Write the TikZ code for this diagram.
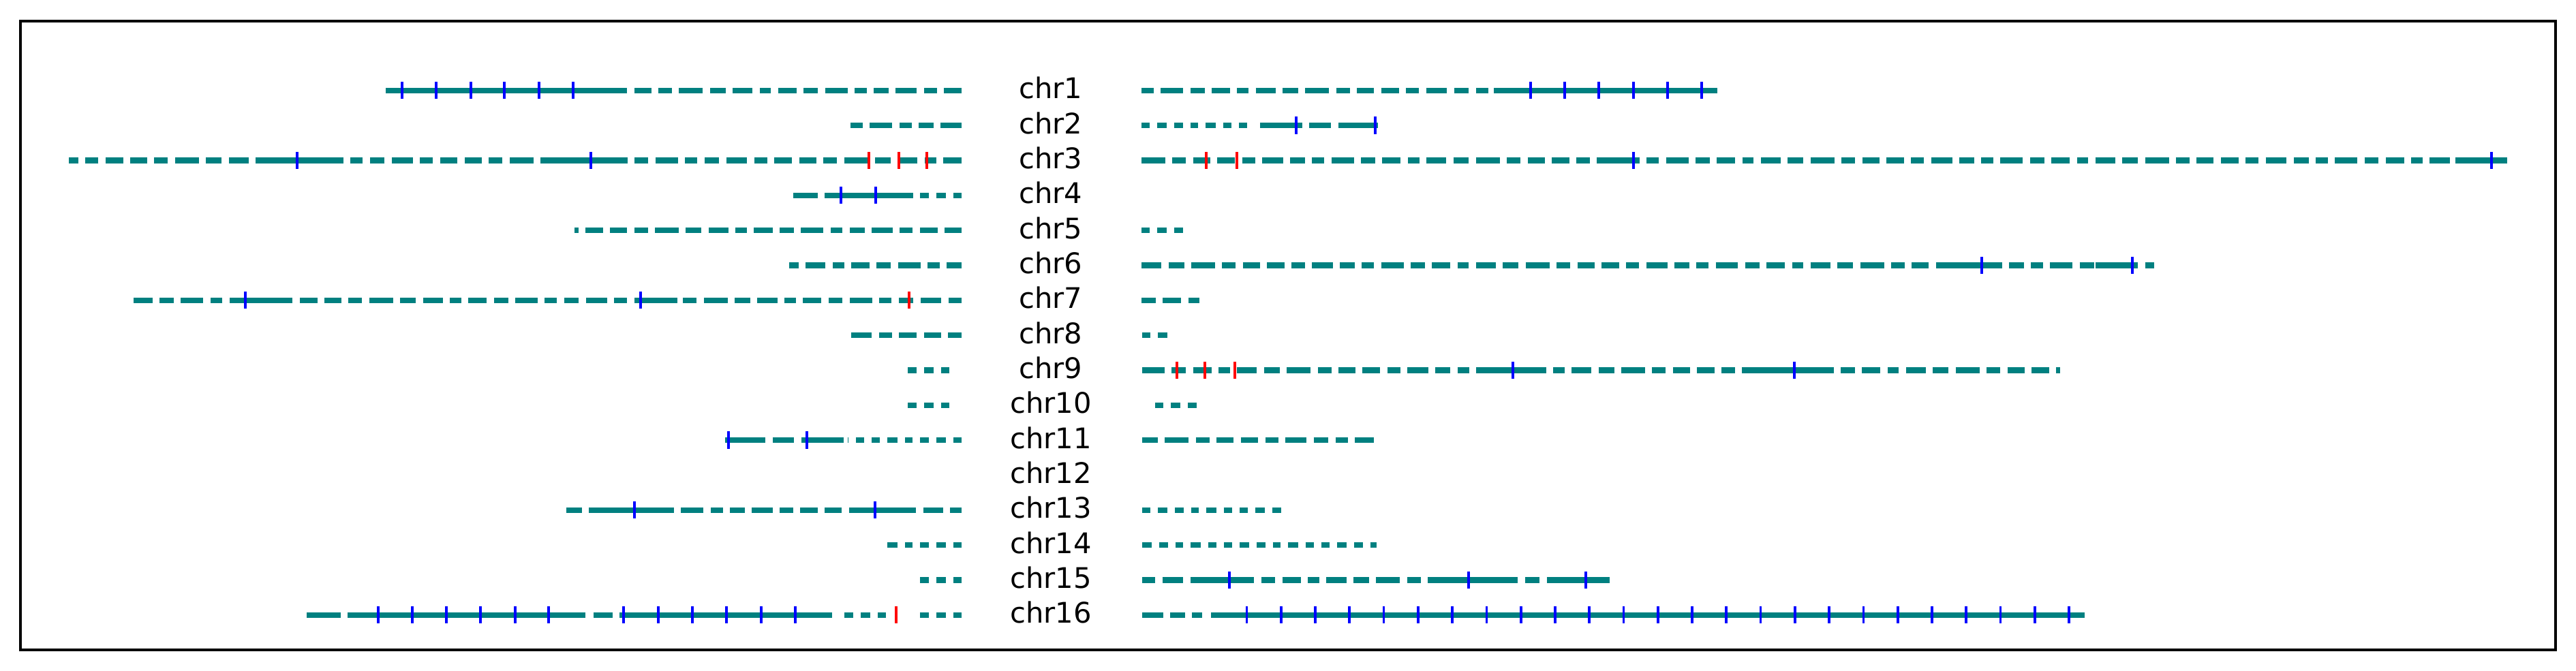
\documentclass[tikz,border=0pt]{standalone}
\usepackage{fontspec}
\setmainfont{DejaVu Sans}
\definecolor{chrteal}{HTML}{008080}
\tikzset{
  arm/.style={draw=chrteal, line width=2pt, dash pattern=on 6.2pt off 2.5pt on 4.6pt off 2.5pt on 7.4pt off 2.5pt on 5.2pt off 2.5pt on 4.3pt off 2.5pt on 7.9pt off 2.5pt on 5pt off 2.5pt on 6.5pt off 2.5pt on 4pt off 2.5pt on 7pt off 2.5pt on 5.5pt off 2.5pt on 8.4pt off 2.5pt on 4.8pt off 2.5pt on 6pt off 2.5pt},
  shortarm/.style={draw=chrteal, line width=2pt, dash pattern=on 2.9pt off 2.6pt on 3.4pt off 2.6pt on 3.1pt off 2.6pt on 2.7pt off 2.6pt on 3.6pt off 2.6pt on 3pt off 2.6pt},
  block/.style={draw=chrteal, line width=2pt},
  btick/.style={draw=blue, line width=0.9pt},
  rtick/.style={draw=red, line width=0.9pt},
  lbl/.style={anchor=base, inner sep=0pt, yshift=-2.95pt, font=\fontsize{10}{12}\selectfont}
}
\begin{document}
\begin{tikzpicture}[x=0.24pt, y=-12.32pt]
	\useasboundingbox (0,-1.585) rectangle (3780,17.585);
	\draw[line width=0.8pt] (30,-0.98) rectangle (3750,17);
	\foreach \i in {1,...,16}
		\node[lbl] (chr\i) at (1542,\i) {chr\i};
	%%%%%%%%%%%%% chr1
	\draw[arm] (1411,1) -- (566,1);
	\draw[block] (566,1) -- (895,1);
	\draw[arm, dash phase=33.4pt] (1675,1) -- (2520,1);
	\draw[block] (2192,1) -- (2520,1);
	\foreach \x in {590,640,691,740,791,841,2246,2296,2346,2397,2447,2497}
		\draw[btick] (\x,1) +(0,-.244) -- +(0,.244);
	%%%%%%%%%%%%% chr2
	\draw[arm, dash phase=15.8pt] (1411,2) -- (1248,2);
	\draw[shortarm] (1675,2) -- (1840,2);
	\draw[block] (1849,2) -- (1911,2) (1921,2) -- (1953,2) (1964,2) -- (2022,2);
	\foreach \x in {1902,2018}
		\draw[btick] (\x,2) +(0,-.244) -- +(0,.244);
	%%%%%%%%%%%%% chr3
	\draw[arm, dash phase=58.1pt] (1411,3) -- (101,3);
	\draw[block] (390,3) -- (490,3) (803,3) -- (921,3);
	\draw[arm, dash phase=91.1pt] (1675,3) -- (3679,3);
	\draw[block] (2343,3) -- (2405,3) (3603,3) -- (3679,3);
	\foreach \x in {436,867,2397,3656}
		\draw[btick] (\x,3) +(0,-.244) -- +(0,.244);
	\foreach \x in {1275,1319,1360,1770,1815}
		\draw[rtick] (\x,3) +(0,-.244) -- +(0,.244);
	%%%%%%%%%%%%% chr4
	\draw[shortarm] (1411,4) -- (1339,4);
	\draw[block] (1164,4) -- (1200,4) (1210,4) -- (1339,4);
	\foreach \x in {1234,1285}
		\draw[btick] (\x,4) +(0,-.244) -- +(0,.244);
	%%%%%%%%%%%%% chr5
	\draw[arm, dash phase=109.3pt] (1411,5) -- (843,5);
	\draw[shortarm] (1675,5) -- (1738,5);
	%%%%%%%%%%%%% chr6
	\draw[arm, dash phase=25.7pt] (1411,6) -- (1158,6);
	\draw[arm, dash phase=73.6pt] (1675,6) -- (3161,6);
	\draw[block] (2853,6) -- (2912,6) (3075,6) -- (3134,6);
	\foreach \x in {2908,3129}
		\draw[btick] (\x,6) +(0,-.244) -- +(0,.244);
	%%%%%%%%%%%%% chr7
	\draw[arm, dash phase=8.7pt] (1411,7) -- (193,7);
	\draw[block] (351,7) -- (414,7) (931,7) -- (994,7);
	\draw[arm, dash phase=50.6pt] (1675,7) -- (1765,7);
	\foreach \x in {360,940}
		\draw[btick] (\x,7) +(0,-.244) -- +(0,.244);
	\draw[rtick] (1334,7) +(0,-.244) -- +(0,.244);
	%%%%%%%%%%%%% chr8
	\draw[arm, dash phase=102pt] (1411,8) -- (1248,8);
	\draw[shortarm] (1676,8) -- (1716,8);
	%%%%%%%%%%%%% chr9
	\draw[shortarm] (1393,9) -- (1330,9);
	\draw[arm, dash phase=40.2pt] (1676,9) -- (3023,9);
	\draw[block] (2166,9) -- (2265,9) (2579,9) -- (2678,9);
	\foreach \x in {2220,2633}
		\draw[btick] (\x,9) +(0,-.244) -- +(0,.244);
	\foreach \x in {1727,1768,1812}
		\draw[rtick] (\x,9) +(0,-.244) -- +(0,.244);
	%%%%%%%%%%%%% chr10
	\draw[shortarm] (1393,10) -- (1330,10);
	\draw[shortarm] (1695,10) -- (1758,10);
	%%%%%%%%%%%%% chr11
	\draw[shortarm] (1411,11) -- (1244,11);
	\draw[block] (1064,11) -- (1123,11) (1134,11) -- (1165,11) (1176,11) -- (1238,11);
	\draw[arm, dash phase=83.1pt] (1676,11) -- (2016,11);
	\foreach \x in {1069,1184}
		\draw[btick] (\x,11) +(0,-.244) -- +(0,.244);
	%%%%%%%%%%%%% chr13
	\draw[arm, dash phase=67.1pt] (1411,13) -- (825,13);
	\draw[block] (892,13) -- (985,13) (1263,13) -- (1339,13);
	\draw[shortarm] (1676,13) -- (1881,13);
	\foreach \x in {931,1284}
		\draw[btick] (\x,13) +(0,-.244) -- +(0,.244);
	%%%%%%%%%%%%% chr14
	\draw[shortarm] (1411,14) -- (1293,14);
	\draw[shortarm, dash phase=5.5pt] (1676,14) -- (2020,14);
	%%%%%%%%%%%%% chr15
	\draw[shortarm] (1411,15) -- (1349,15);
	\draw[arm, dash phase=8.7pt] (1676,15) -- (2362,15);
	\draw[block] (1749,15) -- (1823,15) (2102,15) -- (2196,15) (2272,15) -- (2362,15);
	\foreach \x in {1804,2155,2327}
		\draw[btick] (\x,15) +(0,-.244) -- +(0,.244);
	%%%%%%%%%%%%% chr16
	\draw[shortarm] (1411,16) -- (1349,16);
	\draw[shortarm] (1300,16) -- (1230,16);
	\draw[block] (450,16) -- (500,16) (510,16) -- (859,16) (871,16) -- (899,16) (909,16) -- (1221,16);
	\draw[arm, dash phase=15.8pt] (1676,16) -- (1764,16);
	\draw[block] (1777,16) -- (3059,16);
	\foreach \x in {555,605,655,705,756,805,915,966,1016,1066,1117,1167}
		\draw[btick] (\x,16) +(0,-.244) -- +(0,.244);
	\draw[rtick] (1315,16) +(0,-.244) -- +(0,.244);
	\foreach \k in {0,...,24}
		\draw[btick] ({1829.5+50.27*\k},16) +(0,-.244) -- +(0,.244);
\end{tikzpicture}
\end{document}
